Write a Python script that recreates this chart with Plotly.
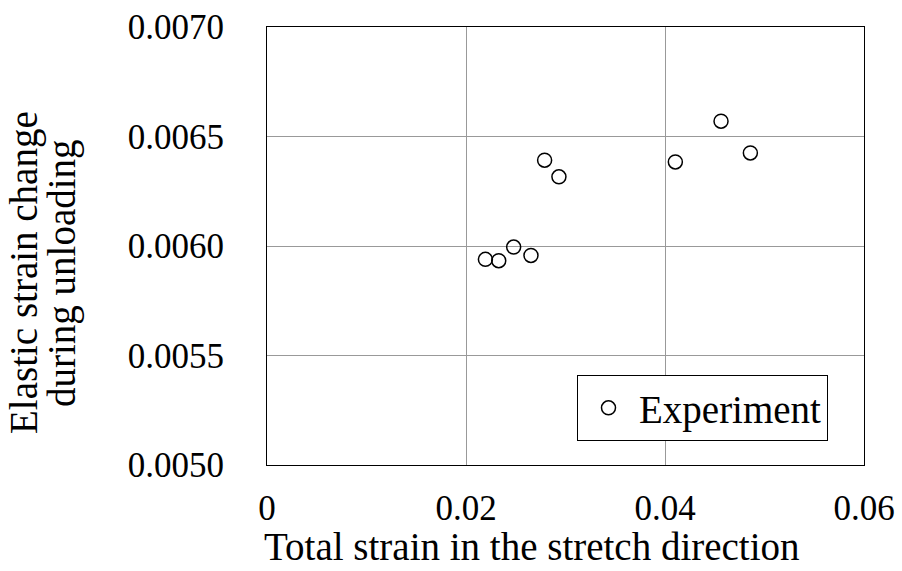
import plotly.graph_objects as go

total_strain = [0.02195, 0.02329, 0.02479, 0.02653, 0.02790, 0.02934, 0.04104, 0.04563, 0.04858]
elastic_change = [0.005939, 0.005933, 0.005995, 0.005957, 0.006392, 0.006316, 0.006384, 0.006570, 0.006425]
x_ticks = [0, 0.02, 0.04, 0.06]
x_tick_labels = ["0", "0.02", "0.04", "0.06"]
y_ticks = [0.0050, 0.0055, 0.0060, 0.0065, 0.0070]
y_tick_labels = ["0.0050", "0.0055", "0.0060", "0.0065", "0.0070"]
x_title = "Total strain in the stretch direction"
y_title_lines = ["Elastic strain change", "during unloading"]

FONT = "Liberation Serif"
L, R, T, B = 267, 38, 27, 106
W, H = 902, 571
PW, PH = W - L - R, H - T - B

fig = go.Figure()
fig.add_trace(go.Scatter(
    x=total_strain, y=elastic_change, mode="markers", name="Experiment",
    marker=dict(symbol="circle-open", size=14, color="black", line=dict(width=1.5, color="black")),
))

def px_x(p):
    return (p - L) / PW

def px_y(p):
    return (H - B - p) / PH

annotations = [
    dict(text=x_title, xref="paper", yref="paper", x=px_x(532), y=px_y(570),
         xanchor="center", yanchor="bottom", showarrow=False,
         font=dict(family=FONT, size=39, color="black")),
    dict(text=y_title_lines[0], xref="paper", yref="paper", x=px_x(24), y=px_y(273),
         xanchor="center", yanchor="middle", showarrow=False, textangle=-90,
         font=dict(family=FONT, size=39, color="black")),
    dict(text=y_title_lines[1], xref="paper", yref="paper", x=px_x(62), y=px_y(273),
         xanchor="center", yanchor="middle", showarrow=False, textangle=-90,
         font=dict(family=FONT, size=39, color="black")),
]

fig.update_layout(
    width=W, height=H,
    margin=dict(l=L, r=R, t=T, b=B),
    paper_bgcolor="white", plot_bgcolor="white",
    font=dict(family=FONT, size=35, color="black"),
    showlegend=True,
    legend=dict(x=px_x(828), y=px_y(441), xanchor="right", yanchor="bottom",
                bordercolor="black", borderwidth=1, bgcolor="white",
                font=dict(family=FONT, size=39), itemwidth=51),
    xaxis=dict(range=[0, 0.06], tickvals=x_ticks, ticktext=x_tick_labels,
               showgrid=True, gridcolor="#999999", gridwidth=1,
               showline=True, linecolor="black", linewidth=1, mirror=True,
               zeroline=False, ticks="", ticklabelstandoff=12, automargin=False),
    yaxis=dict(range=[0.005, 0.007], tickvals=y_ticks, ticktext=y_tick_labels,
               showgrid=True, gridcolor="#999999", gridwidth=1,
               showline=True, linecolor="black", linewidth=1, mirror=True,
               zeroline=False, ticks="", ticklabelstandoff=35, automargin=False),
    annotations=annotations,
)

fig.write_html("out.html")
